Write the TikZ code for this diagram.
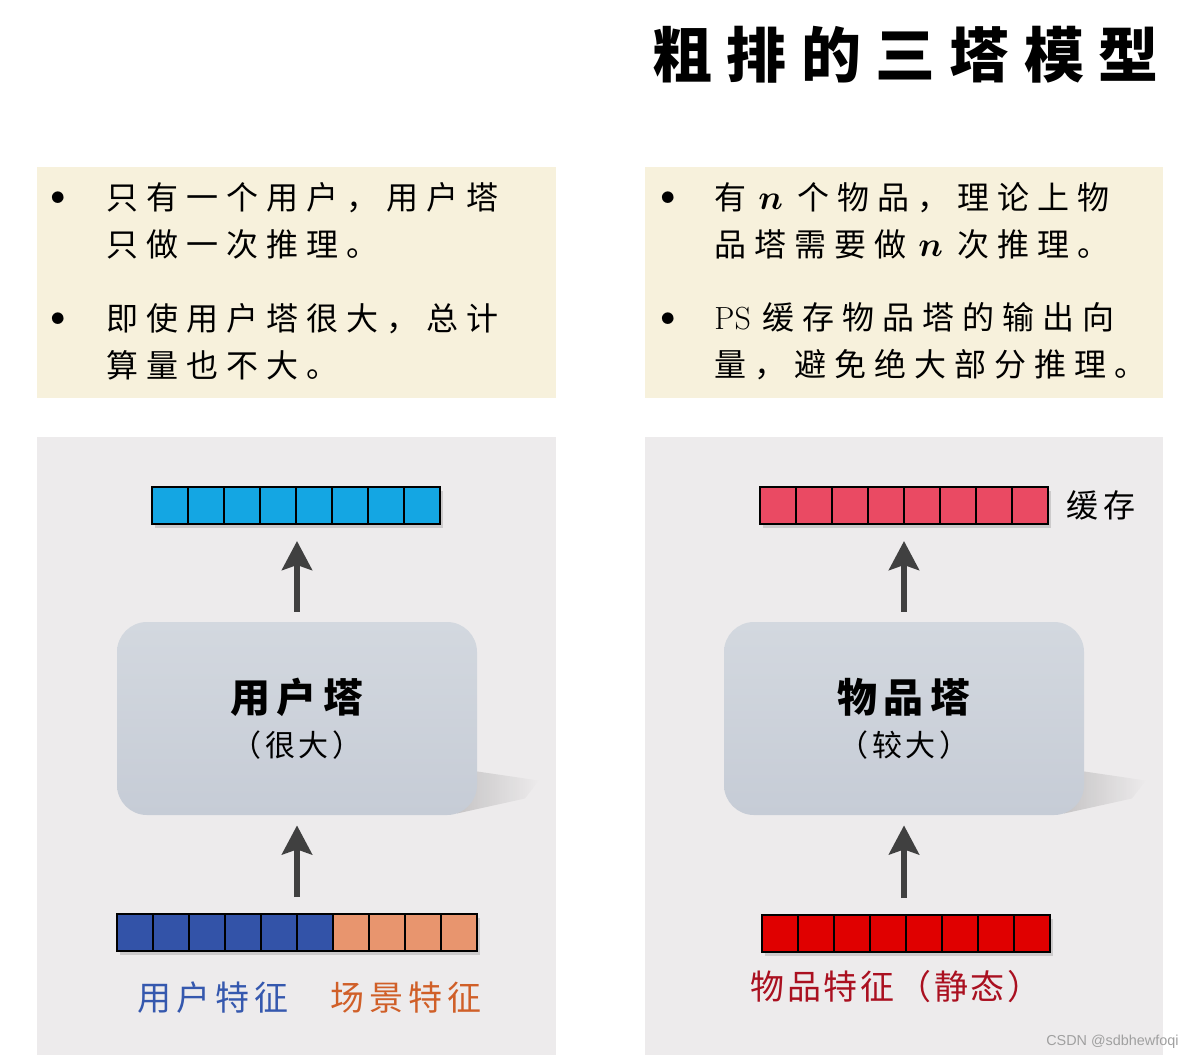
\documentclass[tikz,border=0pt]{standalone}
\usepackage{amsmath}
\usepackage{fontspec}
\newfontfamily\cjk{Noto Sans CJK SC}
\newfontfamily\wmfont{Liberation Sans}
\usepackage{xcolor}
\definecolor{notebg}{HTML}{F7F1DC}
\definecolor{panelbg}{HTML}{EDEBEC}
\definecolor{towertop}{HTML}{D3D8DF}
\definecolor{towerbot}{HTML}{C6CCD6}
\definecolor{ucyan}{HTML}{14A6E3}
\definecolor{ublue}{HTML}{3353A8}
\definecolor{sorange}{HTML}{E8956E}
\definecolor{ipink}{HTML}{EA4A63}
\definecolor{ired}{HTML}{E00000}
\definecolor{ulabel}{HTML}{3558AE}
\definecolor{slabel}{HTML}{D05F28}
\definecolor{ilabel}{HTML}{AA1020}
\definecolor{arrowgray}{HTML}{404040}
\definecolor{wmgray}{HTML}{A0A0A0}
\usetikzlibrary{arrows.meta,positioning,calc,shadows,fadings}
\tikzset{
  note/.style      = {inner sep=0pt,align=left,
                      font={\cjk\fontsize{16pt}{23.5pt}\selectfont
                            \addfontfeatures{LetterSpace=25}}},
  dot/.style       = {inner sep=0pt,font=\fontsize{26pt}{28pt}\selectfont},
  cell/.style      = {draw=black,line width=1.2pt,minimum width=18pt,
                      minimum height=18.5pt,inner sep=0pt,outer sep=0pt,
                      drop shadow={shadow xshift=1.5pt,shadow yshift=-2pt,
                                   opacity=.3}},
  tower/.style     = {rounded corners=15pt,minimum width=180pt,
                      minimum height=96.5pt,inner sep=0pt,
                      top color=towertop,bottom color=towerbot},
  towername/.style = {inner sep=0pt,
                      font={\cjk\bfseries\fontsize{20pt}{24pt}\selectfont
                            \addfontfeatures{LetterSpace=17}}},
  towersub/.style  = {inner sep=0pt,
                      font={\cjk\fontsize{15pt}{17pt}\selectfont
                            \addfontfeatures{LetterSpace=12}}},
  featlbl/.style   = {inner sep=0pt,
                      font={\cjk\fontsize{17pt}{20pt}\selectfont
                            \addfontfeatures{LetterSpace=15}}},
  flowarr/.style   = {-{Stealth[length=14.5pt,width=15pt,inset=2.5pt]},
                      line width=3pt,draw=arrowgray},
  towershade/.style= {fill=black,opacity=.16,path fading=east},
}

\begin{document}
\begin{tikzpicture}[x=0.5pt,y=-0.5pt]
  \useasboundingbox (0,0) rectangle (1192,1060);
  \fill[white] (0,0) rectangle (1192,1060);
  % Title
  \node[anchor=west,inner sep=0pt,
        font={\cjk\bfseries\fontsize{30pt}{36pt}\selectfont
              \addfontfeatures{LetterSpace=24}}] (title) at (652,55)
        {粗排的三塔模型};
  % Notes
  \fill[notebg] (37,167) rectangle (556,398);
  \fill[notebg] (645,167) rectangle (1163,398);
  \node[dot] (lb1) at (58,202) {\textbullet};
  \node[note,anchor=west] (ln1) at (106,220.5)
        {只有一个用户，用户塔\\只做一次推理。};
  \node[dot] (lb2) at (58,323) {\textbullet};
  \node[note,anchor=west] (ln2) at (106,341.5)
        {即使用户塔很大，总计\\算量也不大。};
  \node[dot] (rb1) at (668,202) {\textbullet};
  \node[note,anchor=west] (rn1) at (714,220.5)
        {有\hspace{6pt}$\boldsymbol{n}$\hspace{7pt}个物品，理论上物\\
         品塔需要做\hspace{6pt}$\boldsymbol{n}$\hspace{7pt}次推理。};
  \node[dot] (rb2) at (668,323) {\textbullet};
  \node[note,anchor=west] (rn2) at (714,341.5)
        {{\rmfamily PS}\hspace{6pt}缓存物品塔的输出向\\量，避免绝大部分推理。};
  % Panels
  \fill[panelbg] (37,437) rectangle (556,1055);
  \fill[panelbg] (645,437) rectangle (1163,1055);
  \coordinate (uc) at (297,718.5);
  \coordinate (ic) at (904,718.5);
  \foreach \c in {uc,ic}
    \fill[towershade] ($(\c)+(160,50)$) -- ($(\c)+(242,62)$)
         -- ($(\c)+(228,80)$) -- ($(\c)+(160,95)$) -- cycle;
  % User side
  \foreach \i in {1,...,8}
    \node[cell,fill=ucyan] (uout-\i) at ({152+36*(\i-0.5)},505.5) {};
  \node[tower] (utower) at (uc) {};
  \node[towername] (uname) at ($(utower.center)+(0,-21.5)$) {用户塔};
  \node[towersub] (usub) at ($(utower.center)+(0,26.5)$) {（很大）};
  \foreach \i in {1,...,6}
    \node[cell,fill=ublue] (uin-\i) at ({117+36*(\i-0.5)},932.5) {};
  \foreach \i in {7,...,10}
    \node[cell,fill=sorange] (uin-\i) at ({117+36*(\i-0.5)},932.5) {};
  \node[featlbl,text=ulabel] (ulab) at (213,998) {用户特征};
  \node[featlbl,text=slabel] (slab) at (406,998) {场景特征};
  \draw[flowarr,shorten <=5pt,shorten >=8.5pt]
       (utower.north) -- (utower.north |- uout-1.south);
  \draw[flowarr,shorten <=8.5pt,shorten >=5pt]
       (utower.south |- uin-1.north) -- (utower.south);
  % Item side
  \foreach \i in {1,...,8}
    \node[cell,fill=ipink] (iout-\i) at ({760+36*(\i-0.5)},505.5) {};
  \node[inner sep=0pt,right=9pt of iout-8,
        font={\cjk\fontsize{16pt}{18pt}\selectfont
              \addfontfeatures{LetterSpace=15}}] (cache) {缓存};
  \node[tower] (itower) at (ic) {};
  \node[towername] (iname) at ($(itower.center)+(0,-21.5)$) {物品塔};
  \node[towersub] (isub) at ($(itower.center)+(0,26.5)$) {（较大）};
  \foreach \i in {1,...,8}
    \node[cell,fill=ired] (iin-\i) at ({762+36*(\i-0.5)},933.5) {};
  \node[inner sep=0pt,text=ilabel,
        font={\cjk\fontsize{17pt}{20pt}\selectfont
              \addfontfeatures{LetterSpace=8}}] (ilab) at (896,987)
        {物品特征（静态）};
  \draw[flowarr,shorten <=5pt,shorten >=8.5pt]
       (itower.north) -- (itower.north |- iout-1.south);
  \draw[flowarr,shorten <=8.5pt,shorten >=5pt]
       (itower.south |- iin-1.north) -- (itower.south);
  % Watermark
  \node[anchor=east,inner sep=0pt,text=wmgray,
        font={\wmfont\fontsize{7.2pt}{9pt}\selectfont}] (wm) at (1179,1042)
        {CSDN @sdbhewfoqi};
\end{tikzpicture}
\end{document}
